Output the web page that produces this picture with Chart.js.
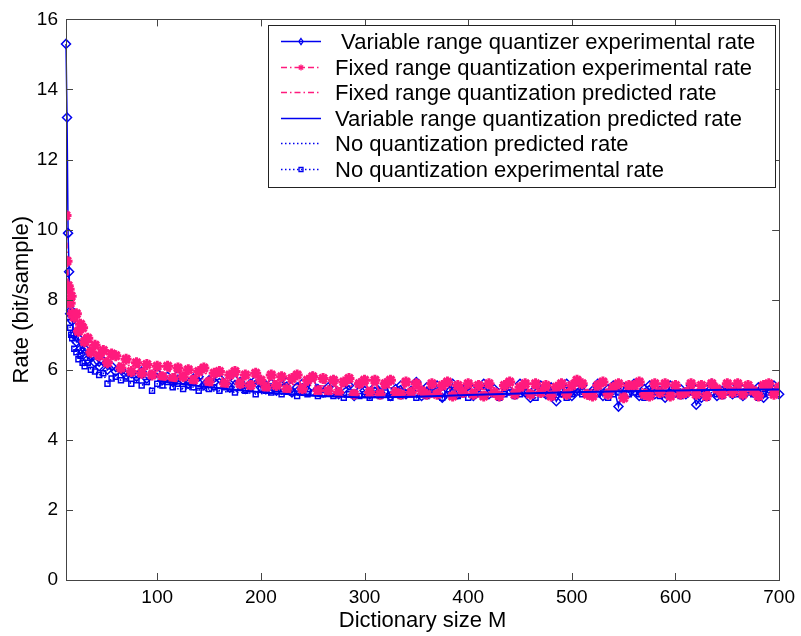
<!DOCTYPE html>
<html>
<head>
<meta charset="utf-8">
<script src="https://cdn.jsdelivr.net/npm/chart.js@4/dist/chart.umd.min.js"></script>
<style>
  html, body { margin: 0; padding: 0; background: #fff; }
  canvas { display: block; }
</style>
</head>
<body>
<canvas id="rateChart" width="801" height="636"></canvas>
<script>
// dictionary sizes M used for the experimental runs
const dictSize = [
  12, 13, 14, 15, 16, 17, 18, 20, 22, 24,
  26, 28, 30, 33, 36, 40, 44, 48, 52, 56,
  60, 65, 70, 75, 80, 85, 90, 95, 100, 105,
  110, 115, 120, 125, 130, 135, 140, 145, 150, 155,
  160, 165, 170, 175, 180, 185, 190, 195, 200, 205,
  210, 215, 220, 225, 230, 235, 240, 245, 250, 255,
  260, 265, 270, 275, 280, 285, 290, 295, 300, 305,
  310, 315, 320, 325, 330, 335, 340, 345, 350, 355,
  360, 365, 370, 375, 380, 385, 390, 395, 400, 405,
  410, 415, 420, 425, 430, 435, 440, 445, 450, 455,
  460, 465, 470, 475, 480, 485, 490, 495, 500, 505,
  510, 515, 520, 525, 530, 535, 540, 545, 550, 555,
  560, 565, 570, 575, 580, 585, 590, 595, 600, 605,
  610, 615, 620, 625, 630, 635, 640, 645, 650, 655,
  660, 665, 670, 675, 680, 685, 690, 695, 700
];

const varRangeExp = [
  15.3, 13.2, 9.9, 8.8, 7.6, 7.7, 7.4, 7.0, 6.8, 6.9,
  6.6, 6.5, 6.6, 6.3, 6.4, 6.2, 6.1, 6.25, 6.0, 6.1,
  5.95, 6.0, 5.85, 5.9, 5.8, 5.95, 5.75, 5.85, 5.9, 5.7,
  5.8, 5.65, 5.85, 5.7, 5.6, 5.75, 5.8, 5.55, 5.7, 5.65,
  5.75, 5.6, 5.5, 5.7, 5.65, 5.45, 5.6, 5.7, 5.5, 5.55,
  5.6, 5.4, 5.55, 5.65, 5.35, 5.5, 5.6, 5.4, 5.8, 5.45,
  5.35, 5.5, 5.7, 5.3, 5.45, 5.55, 5.25, 5.6, 5.4, 5.3,
  5.5, 5.35, 5.6, 5.25, 5.45, 5.55, 5.3, 5.4, 5.65, 5.25,
  5.5, 5.35, 5.55, 5.2, 5.45, 5.6, 5.3, 5.4, 5.55, 5.25,
  5.5, 5.6, 5.3, 5.45, 5.25, 5.55, 5.4, 5.3, 5.6, 5.35,
  5.2, 5.45, 5.55, 5.3, 5.5, 5.1, 5.35, 5.6, 5.25, 5.45,
  5.55, 5.3, 5.4, 5.6, 5.25, 5.45, 5.55, 4.95, 5.5, 5.35,
  5.6, 5.25, 5.45, 5.55, 5.3, 5.4, 5.2, 5.55, 5.35, 5.45,
  5.3, 5.55, 5.0, 5.2, 5.45, 5.6, 5.25, 5.4, 5.5, 5.3,
  5.55, 5.25, 5.45, 5.35, 5.5, 5.2, 5.45, 5.55, 5.3
];

const fixedRangeExp = [
  10.4, 9.1, 8.4, 8.3, 7.9, 8.1, 7.6, 7.5, 7.6, 7.1,
  7.3, 7.2, 6.8, 6.9, 6.5, 6.7, 6.4, 6.55, 6.2, 6.45,
  6.4, 6.05, 6.3, 5.95, 6.2, 5.9, 6.15, 5.85, 6.1, 5.8,
  6.1, 5.75, 6.05, 5.8, 6.0, 5.7, 5.95, 6.05, 5.65, 5.9,
  5.95, 5.6, 5.85, 5.95, 5.6, 5.85, 5.55, 5.9, 5.7, 5.5,
  5.85, 5.55, 5.8, 5.45, 5.75, 5.85, 5.45, 5.7, 5.8, 5.4,
  5.75, 5.4, 5.7, 5.35, 5.65, 5.75, 5.3, 5.6, 5.7, 5.35,
  5.7, 5.3, 5.6, 5.7, 5.35, 5.3, 5.65, 5.35, 5.6, 5.4,
  5.3, 5.6, 5.3, 5.55, 5.65, 5.25, 5.55, 5.35, 5.6, 5.3,
  5.55, 5.25, 5.6, 5.35, 5.25, 5.55, 5.65, 5.3, 5.5, 5.6,
  5.3, 5.6, 5.35, 5.55, 5.25, 5.5, 5.6, 5.3, 5.55, 5.7,
  5.6, 5.3, 5.25, 5.55, 5.65, 5.3, 5.5, 5.6, 5.2, 5.55,
  5.55, 5.65, 5.3, 5.25, 5.6, 5.35, 5.6, 5.25, 5.55, 5.3,
  5.35, 5.6, 5.3, 5.55, 5.25, 5.6, 5.45, 5.3, 5.6, 5.35,
  5.6, 5.3, 5.55, 5.4, 5.25, 5.55, 5.6, 5.3, 5.5
];

const noQuantExp = [
  8.6, 7.9, 7.6, 7.5, 7.2, 7.0, 6.9, 6.6, 6.5, 6.3,
  6.4, 6.2, 6.1, 6.2, 6.0, 5.95, 5.85, 5.9, 5.6, 5.75,
  5.8, 5.7, 5.75, 5.6, 5.7, 5.55, 5.65, 5.4, 5.6, 5.55,
  5.65, 5.5, 5.6, 5.45, 5.55, 5.5, 5.4, 5.55, 5.45, 5.5,
  5.4, 5.5, 5.45, 5.35, 5.5, 5.4, 5.45, 5.3, 5.45, 5.4,
  5.35, 5.45, 5.3, 5.4, 5.35, 5.25, 5.4, 5.3, 5.35, 5.25,
  5.3, 5.35, 5.25, 5.35, 5.2, 5.3, 5.35, 5.25, 5.3, 5.2,
  5.3, 5.25, 5.35, 5.2, 5.3, 5.25, 5.35, 5.3, 5.2, 5.3,
  5.25, 5.35, 5.3, 5.2, 5.3, 5.35, 5.25, 5.3, 5.2, 5.35,
  5.3, 5.25, 5.35, 5.3, 5.2, 5.3, 5.35, 5.25, 5.3, 5.35,
  5.3, 5.2, 5.35, 5.3, 5.25, 5.35, 5.3, 5.2, 5.3, 5.35,
  5.3, 5.35, 5.25, 5.3, 5.35, 5.2, 5.3, 5.35, 5.25, 5.3,
  5.35, 5.3, 5.2, 5.3, 5.35, 5.25, 5.3, 5.35, 5.3, 5.25,
  5.3, 5.35, 5.25, 5.3, 5.2, 5.35, 5.3, 5.25, 5.35, 5.3,
  5.3, 5.25, 5.35, 5.3, 5.2, 5.3, 5.35, 5.3, 5.3
];

// predicted curves (smooth, fewer samples)
const predSize = [100, 150, 200, 250, 300, 350, 400, 450, 500, 550, 600, 650, 700];
const varRangePred = [5.68, 5.5, 5.36, 5.26, 5.21, 5.23, 5.28, 5.32, 5.36, 5.39, 5.41, 5.43, 5.44];
const fixedRangePred = [5.85, 5.72, 5.62, 5.55, 5.5, 5.47, 5.45, 5.44, 5.44, 5.44, 5.44, 5.45, 5.45];
const noQuantPred = [5.5, 5.4, 5.32, 5.28, 5.26, 5.27, 5.28, 5.29, 5.3, 5.3, 5.31, 5.31, 5.32];

const xTicks = [100, 200, 300, 400, 500, 600, 700];
const yTicks = [0, 2, 4, 6, 8, 10, 12, 14, 16];

const BLUE = "#0000f0";
const PINK = "#ff1a7d";
const FONT = "'Liberation Sans', Arial, Helvetica, sans-serif";

function pts(xs, ys) {
  return xs.map((x, i) => ({ x: x, y: ys[i] }));
}

const datasets = [
  {
    label: " Variable range quantizer experimental rate",
    data: pts(dictSize, varRangeExp),
    borderColor: BLUE, borderWidth: 1.5,
    pointStyle: "rectRot", pointRadius: 4.5, pointBorderWidth: 1.5,
    pointBorderColor: BLUE, pointBackgroundColor: "rgba(0,0,0,0)",
    order: 2, clip: false
  },
  {
    label: "Fixed range quantization experimental rate",
    data: pts(dictSize, fixedRangeExp),
    borderColor: PINK, borderWidth: 2, borderDash: [6, 3, 1.5, 3],
    pointStyle: "star", pointRadius: 5.5, pointBorderWidth: 3,
    pointBorderColor: PINK, pointBackgroundColor: PINK,
    order: 1
  },
  {
    label: "Fixed range quantization predicted rate",
    data: pts(predSize, fixedRangePred),
    borderColor: PINK, borderWidth: 1.5, borderDash: [6, 3, 1.5, 3],
    pointRadius: 0, order: 4
  },
  {
    label: "Variable range quantization predicted rate",
    data: pts(predSize, varRangePred),
    borderColor: BLUE, borderWidth: 2, pointRadius: 0, order: 0
  },
  {
    label: "No quantization predicted rate",
    data: pts(predSize, noQuantPred),
    borderColor: BLUE, borderWidth: 1.5, borderDash: [1.5, 2.5],
    pointRadius: 0, order: 4
  },
  {
    label: "No quantization experimental rate",
    data: pts(dictSize, noQuantExp),
    borderColor: BLUE, borderWidth: 1.5, borderDash: [1.5, 2.5],
    pointStyle: "rect", pointRadius: 3.5, pointBorderWidth: 1.5,
    pointBorderColor: BLUE, pointBackgroundColor: "rgba(0,0,0,0)",
    order: 3
  }
];

// matlab style box with inward ticks
const boxPlugin = {
  id: "box",
  afterDatasetsDraw(chart) {
    const { ctx, chartArea: a, scales } = chart;
    ctx.save();
    ctx.strokeStyle = "#444";
    ctx.lineWidth = 1;
    ctx.strokeRect(Math.round(a.left) + 0.5, Math.round(a.top) + 0.5,
      Math.round(a.right - a.left), Math.round(a.bottom - a.top));
    ctx.beginPath();
    xTicks.forEach(v => {
      const x = Math.round(scales.x.getPixelForValue(v)) + 0.5;
      ctx.moveTo(x, a.bottom); ctx.lineTo(x, a.bottom - 7);
      ctx.moveTo(x, a.top); ctx.lineTo(x, a.top + 7);
    });
    yTicks.forEach(v => {
      const y = Math.round(scales.y.getPixelForValue(v)) + 0.5;
      ctx.moveTo(a.left, y); ctx.lineTo(a.left + 7, y);
      ctx.moveTo(a.right, y); ctx.lineTo(a.right - 7, y);
    });
    ctx.stroke();
    ctx.restore();
  }
};

// legend box inside the plot, top right
const legendPlugin = {
  id: "boxLegend",
  afterDraw(chart) {
    const ctx = chart.ctx;
    const left = 268, top = 25, right = 775, bottom = 187;
    ctx.save();
    ctx.fillStyle = "#fff";
    ctx.fillRect(left, top, right - left, bottom - top);
    ctx.strokeStyle = "#222";
    ctx.lineWidth = 1;
    ctx.strokeRect(left + 0.5, top + 0.5, right - left, bottom - top);
    ctx.font = "22px " + FONT;
    ctx.textBaseline = "middle";
    chart.data.datasets.forEach((ds, i) => {
      const y = Math.round(41 + i * 25.6) + 0.5;
      ctx.save();
      ctx.strokeStyle = ds.borderColor;
      ctx.lineWidth = Math.min(ds.borderWidth, 1.5);
      ctx.setLineDash(ds.borderDash || []);
      ctx.beginPath();
      ctx.moveTo(281, y); ctx.lineTo(321, y);
      ctx.stroke();
      ctx.restore();
      if (ds.pointRadius > 0) {
        ctx.save();
        ctx.strokeStyle = ds.pointBorderColor;
        ctx.lineWidth = 1.3;
        ctx.beginPath();
        const r = 3;
        if (ds.pointStyle === "rectRot") {
          ctx.moveTo(301, y - r); ctx.lineTo(301 + r * 0.7, y); ctx.lineTo(301, y + r); ctx.lineTo(301 - r * 0.7, y); ctx.closePath();
        } else if (ds.pointStyle === "rect") {
          ctx.rect(301 - 2, y - 2, 4, 4);
        } else {
          ctx.moveTo(301 - r, y); ctx.lineTo(301 + r, y);
          ctx.moveTo(301, y - r); ctx.lineTo(301, y + r);
          ctx.moveTo(301 - r * 0.7, y - r * 0.7); ctx.lineTo(301 + r * 0.7, y + r * 0.7);
          ctx.moveTo(301 + r * 0.7, y - r * 0.7); ctx.lineTo(301 - r * 0.7, y + r * 0.7);
        }
        ctx.stroke();
        ctx.restore();
      }
      ctx.fillStyle = "#000";
      ctx.fillText(ds.label, 335, y + 1);
    });
    ctx.restore();
  }
};

new Chart(document.getElementById("rateChart"), {
  type: "line",
  data: { datasets },
  plugins: [boxPlugin, legendPlugin],
  options: {
    responsive: false,
    animation: false,
    layout: { padding: { top: 16, right: 20, left: 0, bottom: 0 } },
    plugins: { legend: { display: false }, tooltip: { enabled: false } },
    elements: { line: { tension: 0 } },
    scales: {
      x: {
        type: "linear",
        min: 12, max: 700,
        grid: { display: false, drawTicks: false },
        border: { display: false },
        afterBuildTicks: s => { s.ticks = xTicks.map(v => ({ value: v })); },
        afterFit: s => { s.height = 56; },
        ticks: { color: "#000", font: { family: FONT, size: 19 }, padding: 6, maxRotation: 0 },
        title: {
          display: true, text: "Dictionary size M", color: "#000",
          font: { family: FONT, size: 22 }, padding: { top: 0, bottom: 2 }
        }
      },
      y: {
        min: 0, max: 16,
        grid: { display: false, drawTicks: false },
        border: { display: false },
        afterBuildTicks: s => { s.ticks = yTicks.map(v => ({ value: v })); },
        afterFit: s => { s.width = 66; },
        ticks: { color: "#000", font: { family: FONT, size: 19 }, padding: 8 },
        title: {
          display: true, text: "Rate (bit/sample)", color: "#000",
          font: { family: FONT, size: 22 }, padding: { top: 9, bottom: 0 }
        }
      }
    }
  }
});
</script>
</body>
</html>
